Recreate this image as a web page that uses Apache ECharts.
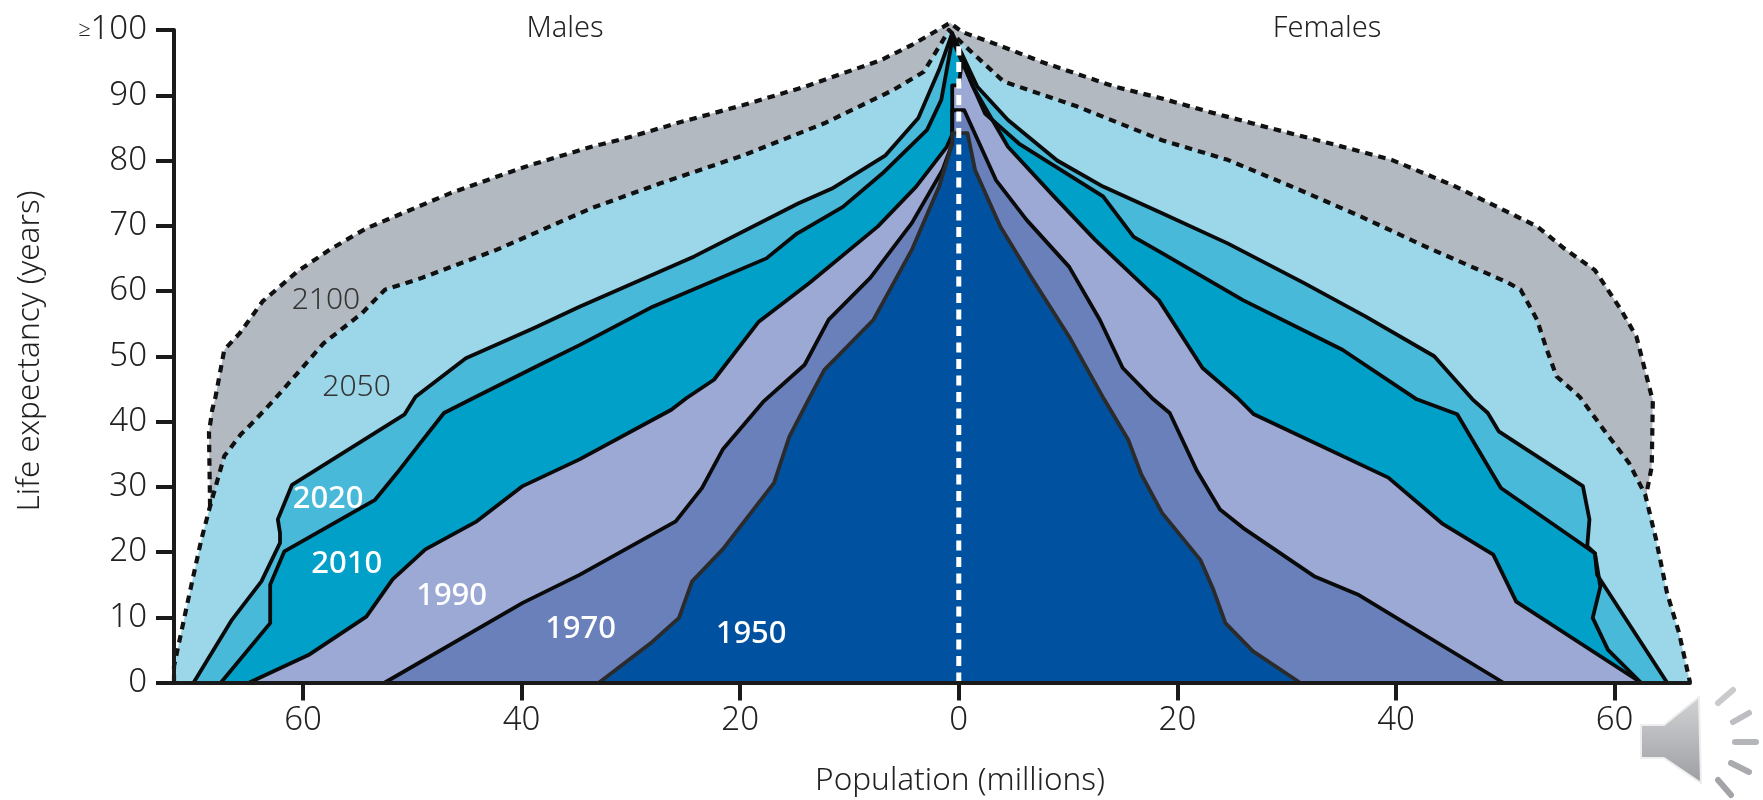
<!DOCTYPE html>
<html>
<head>
<meta charset="utf-8">
<style>
  html, body { margin: 0; padding: 0; background: #fff; }
  #chart { width: 1763px; height: 800px; }
</style>
<script src="https://cdn.jsdelivr.net/npm/echarts@6/dist/echarts.min.js"></script>
</head>
<body>
<div id="chart"></div>
<script>
// each outline runs from the male base, over the peak, to the female base
// males are negative so the axis can stay a plain value axis
// 2100 only starts where it leaves the 2050 line, below that they are one line
var pop2100 = [-68.5,-68.6,-68.3,-68.0,-67.2,-65.8,-63.7,-60.5,-57.4,-54.2,-46.5,-42.3,-39.2,-33.6,-30.5,-25.2,-19.7,-14.1,-7.1,-4.3,-1.6,-0.8,0.3,3.6,7.6,14.3,18.6,22.8,28.4,34,39.6,45.2,50.1,52.9,55.4,58.2,60.6,62,63.4,63.5,63.4,62.9];
var age2100 = [27,38.3,41.8,43.8,51,53.5,58.4,63,66.5,69.6,75,77.5,79.3,82.1,83.4,86,88.5,91.3,95.4,97.7,100.3,101.1,99.7,97.7,95.1,91.3,89.5,87.5,85,82.6,80.1,76.2,72.2,69.9,66.5,63.2,57.1,53,43.8,43.4,33.1,28.8];

var pop2050 = [-71.8,-71.8,-70.5,-69.3,-68.5,-67.2,-65.7,-64.5,-62.6,-58.1,-54.6,-52.5,-49.3,-42.3,-33.6,-27.3,-19.7,-12.3,-6,-3.2,-1.6,-0.9,0.6,4.1,10.8,18.6,24.6,30.9,36.8,43.1,50.1,51.4,52.9,53.8,54.7,56.8,59.2,61.3,62.8,63.8,64.8,65.9,66.9];
var age2050 = [0,2.5,12.7,21.9,27,34.7,38,40,43.4,52,56.6,60.2,61.9,66.3,72.7,76.5,80.8,85.7,90.8,93.6,98,100,97.5,92.1,88.3,83.1,80.1,75.7,71.4,66.5,61.4,60.2,55.6,51,46.9,43.8,38.3,33.7,28.8,21.9,13.7,7.6,0];

var pop2020 = [-70,-66.5,-63.8,-62.1,-62.1,-62.3,-61,-54.9,-50.7,-49.7,-45.1,-38.9,-34.7,-24.2,-14.7,-11.6,-6.7,-3.7,-1.8,-0.6,1.7,4.5,9,13.2,18.6,24.6,31.6,37.2,43.5,47,48.4,49.4,57.1,57.7,57.5,58.2,58.4,64.8];
var age2020 = [0,9.6,15.5,21.4,22.9,25,30.3,36.7,41.1,43.8,49.7,54.3,57.6,65.3,73.4,75.7,80.8,86.5,93.9,99.5,91.3,86.2,80,76,71.9,67.3,61.2,56.1,50,43.4,41.3,38.5,30.1,25,20.9,19.8,16.5,0];

var pop2010 = [-67.5,-63,-63,-61.7,-53.4,-51.4,-49.5,-47.1,-44.4,-38.1,-34.7,-28,-17.6,-14.8,-10.6,-7,-2.9,-1.6,-0.6,2.4,5.5,13.2,16,18.6,26,35.1,41.9,45.6,49.6,58.2,58.7,58,59.4,62.4];
var age2010 = [0,9.1,15,20.1,28,32.1,36.2,41.3,43.6,48.9,51.7,57.6,65,68.8,72.9,78,84.7,89.3,98.5,87.2,82.6,74.5,68.3,65.8,58.6,51,43.4,41.1,29.8,19.8,14.7,9.9,5,0];

var pop1990 = [-64.9,-59.5,-54.2,-51.8,-48.8,-44.1,-39.9,-34.7,-26.3,-24.9,-22.4,-18.3,-13.7,-7.4,-3.9,-1.1,-0.6,-0.6,0,0.3,1.3,4.5,8.7,12.5,18.3,22.3,25.5,27,39.3,44.2,48.9,51,62.4];
var age1990 = [0,4.2,10.1,15.8,20.4,24.7,30.1,34.2,41.8,43.6,46.4,55.3,61.2,69.9,76,82.1,84,91.5,91.5,95.4,91.3,82.1,74.5,67.8,58.6,48.2,43.6,41.1,31.4,24.4,19.6,12.4,0];

var pop1970 = [-52.5,-39.9,-34.7,-25.9,-23.5,-21.6,-17.9,-14.1,-11.9,-8.1,-4.3,-1.5,-0.6,-0.6,0.5,3.4,6.2,10.1,12.9,15,17.8,19.3,21.8,23.9,26,32.5,36.5,49.8];
var age1970 = [0,12.2,16.5,24.7,29.8,35.7,43,48.7,55.6,62,70.4,78.5,82.6,87.7,87.7,77,70.9,63.7,55.6,48.2,43.4,41.3,32.4,26.5,23.7,16.3,13.5,0];

var pop1950 = [-32.9,-28.2,-25.6,-24.4,-21.6,-16.9,-15.5,-13.7,-12.3,-7.8,-4.3,-1.8,-0.6,-0.6,0.8,1.5,3.8,6.6,10.1,13.3,15.5,16.7,18.6,22.1,23.3,24.4,26.9,31.2];
var age1950 = [0,6,9.9,15.5,20.4,30.6,37.7,43.5,47.9,55.6,66.3,76,82.6,84.2,84.2,78.5,69.9,62.2,53,43.4,37.2,31.9,26,18.8,14.2,9.1,4.8,0];

var centrePop = [0, 0];
var centreAge = [0, 97.5];

var yearNames = ['2100','2050','2020','2010','1990','1970','1950'];
var yearPop = [-57.9,-55.1,-57.7,-56,-46.4,-34.6,-19];
var yearAge = [58.6,45.2,28.1,18.1,13.3,8.1,7.4];
var yearTextColors = ['#333','#333','#fff','#fff','#fff','#fff','#fff'];

var xTicks = [-60,-40,-20,0,20,40,60];

var fontName = '"Noto Sans"';
var textColor = '#222';

function zip(xs, ys) {
  return xs.map(function (x, i) { return [x, ys[i]]; });
}

function outline(name, xs, ys, fill, lineColor, dashed) {
  return {
    name: name,
    type: 'line',
    data: zip(xs, ys),
    showSymbol: false,
    clip: false,
    lineStyle: {
      color: lineColor,
      width: dashed ? 4.2 : 3.8,
      type: dashed ? [7.5, 6] : 'solid',
      join: 'round'
    },
    areaStyle: { color: fill, opacity: 1 }
  };
}

function plainText(text, x, y, size, rotation) {
  return {
    type: 'text',
    x: x,
    y: y,
    rotation: rotation || 0,
    style: { text: text, font: '300 ' + size + 'px ' + fontName, fill: textColor, align: 'center', verticalAlign: 'middle' }
  };
}

var chart = echarts.init(document.getElementById('chart'));

var option = {
  animation: false,
  textStyle: { fontFamily: fontName },
  grid: { left: 174, right: 73, top: 30, bottom: 117.5, containLabel: false },
  xAxis: {
    type: 'value',
    min: -71.8,
    max: 66.9,
    z: 10,
    splitLine: { show: false },
    axisLine: { onZero: false, lineStyle: { color: '#1a1a1a', width: 4 } },
    axisTick: { length: 18, customValues: xTicks, lineStyle: { color: '#1a1a1a', width: 4 } },
    axisLabel: {
      customValues: xTicks,
      margin: 22,
      fontSize: 33,
      fontWeight: 300,
      color: textColor,
      fontFamily: fontName,
      formatter: function (v) { return Math.abs(v); }
    }
  },
  yAxis: {
    type: 'value',
    min: 0,
    max: 100,
    interval: 10,
    z: 10,
    splitLine: { show: false },
    axisLine: { onZero: false, lineStyle: { color: '#1a1a1a', width: 4 } },
    axisTick: { length: 18, lineStyle: { color: '#1a1a1a', width: 4 } },
    axisLabel: {
      margin: 27,
      fontSize: 33,
      fontWeight: 300,
      color: textColor,
      fontFamily: fontName,
      formatter: function (v) { return v === 100 ? '{ge|≥}100' : v; },
      rich: { ge: { fontSize: 22, fontWeight: 300, color: textColor, fontFamily: fontName } }
    }
  },
  series: [
    outline('2100', pop2100, age2100, '#b3b9c1', '#111', true),
    outline('2050', pop2050, age2050, '#9cd6e9', '#111', true),
    outline('2020', pop2020, age2020, '#48b9d9', '#0a0a0a', false),
    outline('2010', pop2010, age2010, '#00a0c8', '#0a0a0a', false),
    outline('1990', pop1990, age1990, '#9da9d5', '#0a0a0a', false),
    outline('1970', pop1970, age1970, '#6a80ba', '#0a0a0a', false),
    outline('1950', pop1950, age1950, '#0052a0', '#2b2b2b', false),
    {
      name: 'centre',
      type: 'line',
      z: 5,
      data: zip(centrePop, centreAge),
      showSymbol: false,
      lineStyle: { color: '#fff', width: 5, type: [10, 6.5] }
    },
    {
      name: 'years',
      type: 'scatter',
      z: 6,
      symbolSize: 0,
      itemStyle: { opacity: 1 },
      data: yearNames.map(function (n, i) {
        return {
          value: [yearPop[i], yearAge[i]],
          label: {
            show: true,
            position: 'inside',
            formatter: n,
            fontSize: i < 2 ? 30 : 31,
            fontWeight: i < 2 ? 300 : 500,
            fontFamily: fontName,
            color: yearTextColors[i]
          }
        };
      })
    }
  ],
  graphic: [
    plainText('Males', 565, 29, 29),
    plainText('Females', 1327, 29, 29),
    plainText('Population (millions)', 960, 781, 31.5),
    plainText('Life expectancy (years)', 30, 351, 31.5, Math.PI / 2),
    // the audio icon sitting in the corner of the slide
    {
      type: 'polygon',
      shape: { points: [[1641,725],[1664,725],[1699,697],[1701,783],[1664,758],[1641,758]] },
      style: { fill: new echarts.graphic.LinearGradient(0, 0, 0, 1, [{ offset: 0, color: '#d2d3d5' }, { offset: 1, color: '#9c9ea2' }]), stroke: '#eee', lineWidth: 2 }
    },
    { type: 'line', shape: { x1: 1718, y1: 703, x2: 1733, y2: 690 }, style: { stroke: '#c9cacc', lineWidth: 6, lineCap: 'round' } },
    { type: 'line', shape: { x1: 1733, y1: 722, x2: 1749, y2: 713 }, style: { stroke: '#bdbec1', lineWidth: 6, lineCap: 'round' } },
    { type: 'line', shape: { x1: 1735, y1: 742, x2: 1756, y2: 742 }, style: { stroke: '#b4b5b8', lineWidth: 6, lineCap: 'round' } },
    { type: 'line', shape: { x1: 1731, y1: 763, x2: 1749, y2: 772 }, style: { stroke: '#a9abae', lineWidth: 6, lineCap: 'round' } },
    { type: 'line', shape: { x1: 1718, y1: 780, x2: 1731, y2: 795 }, style: { stroke: '#a2a4a7', lineWidth: 6, lineCap: 'round' } }
  ]
};

chart.setOption(option);
</script>
</body>
</html>
